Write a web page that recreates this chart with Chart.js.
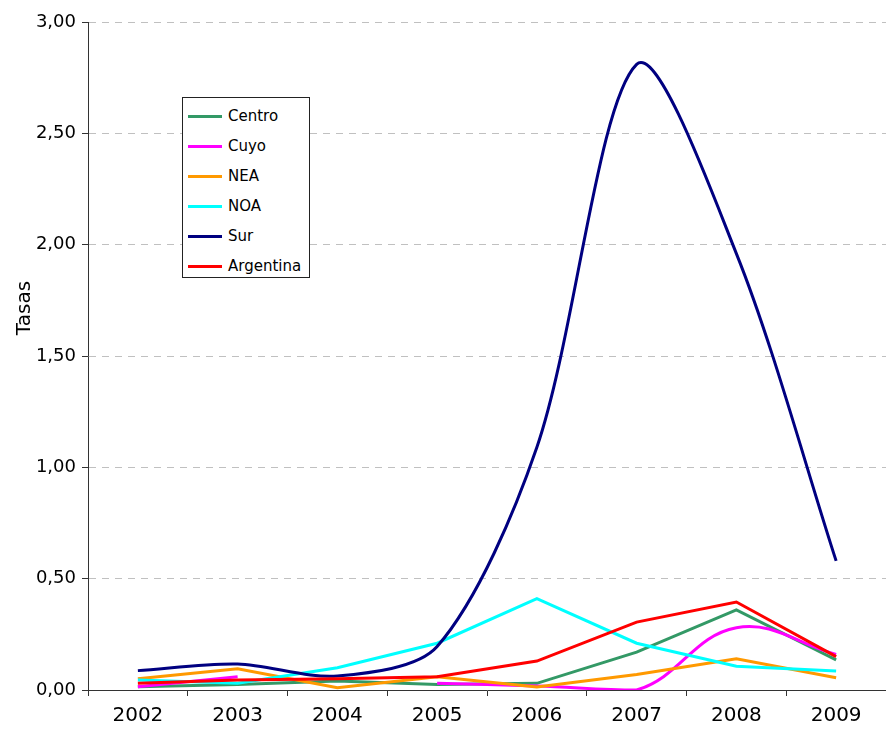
<!DOCTYPE html>
<html>
<head>
<meta charset="utf-8">
<script src="https://cdn.jsdelivr.net/npm/chart.js@4.4.1/dist/chart.umd.min.js"></script>
<style>
    html, body { margin: 0; padding: 0; background: #fff; }
    #wrap { position: relative; width: 886px; height: 735px; overflow: hidden; }
    #leyenda {
        position: absolute; left: 182px; top: 97px; width: 128px; height: 181px;
        border: 1px solid #222; background: #fff; box-sizing: border-box;
        padding-top: 3px;
        font-family: "DejaVu Sans", Tahoma, sans-serif; font-size: 15px; color: #000;
    }
    #leyenda .item { height: 30px; display: flex; align-items: center; }
    #leyenda .linea { width: 34px; height: 3px; margin-left: 5px; margin-right: 6px; }
</style>
</head>
<body>
<div id="wrap">
    <canvas id="grafico" width="886" height="735"></canvas>
    <div id="leyenda"></div>
</div>
<script>
/* ==================
    DATOS
================== */

const anios = ['2002', '2003', '2004', '2005', '2006', '2007', '2008', '2009'];

const centro    = [0.015, 0.025, 0.04, 0.025, 0.03, 0.17, 0.36, 0.135];
const cuyo      = [0.015, 0.06, null, 0.03, 0.018, 0.0, 0.28, 0.16];
const nea       = [0.05, 0.095, 0.01, 0.06, 0.013, 0.07, 0.14, 0.055];
const noa       = [0.045, 0.03, 0.10, 0.21, 0.41, 0.21, 0.107, 0.085];
const sur       = [0.087, 0.117, 0.063, 0.195, 1.09, 2.81, 1.96, 0.58];
const argentina = [0.03, 0.045, 0.05, 0.06, 0.13, 0.305, 0.395, 0.15];

const series = [
    { label: 'Centro', data: centro, color: '#339966', tension: 0 },
    { label: 'Cuyo', data: cuyo, color: '#FF00FF', tension: 0.4 },
    { label: 'NEA', data: nea, color: '#FF9900', tension: 0 },
    { label: 'NOA', data: noa, color: '#00FFFF', tension: 0 },
    { label: 'Sur', data: sur, color: '#000080', tension: 0.3 },
    { label: 'Argentina', data: argentina, color: '#FF0000', tension: 0 }
];

const fuente = '"DejaVu Sans", Tahoma, sans-serif';

/* ==================
    TITULO DEL EJE Y
================== */

const tituloY = {
    id: 'tituloY',
    afterDraw(chart) {
        const ctx = chart.ctx;
        ctx.save();
        ctx.translate(25, 308);
        ctx.rotate(-Math.PI / 2);
        ctx.font = '20px ' + fuente;
        ctx.fillStyle = '#000';
        ctx.textAlign = 'center';
        ctx.textBaseline = 'middle';
        ctx.fillText('Tasas', 0, 0);
        ctx.restore();
    }
};

/* ==================
    GRAFICA
================== */

const ctx = document.getElementById('grafico').getContext('2d');
new Chart(ctx, {
    type: 'line',
    data: {
        labels: anios,
        datasets: series.map((s, i) => ({
            label: s.label,
            data: s.data,
            borderColor: s.color,
            backgroundColor: s.color,
            borderWidth: 3,
            pointRadius: 0,
            tension: s.tension,
            spanGaps: false,
            fill: false,
            order: series.length - i
        }))
    },
    options: {
        responsive: false,
        animation: false,
        layout: { padding: { top: 22, right: 0, left: 0, bottom: 0 } },
        plugins: {
            legend: { display: false },
            tooltip: { enabled: false }
        },
        scales: {
            x: {
                offset: true,
                afterFit: (s) => { s.height = 45; },
                grid: {
                    offset: true,
                    drawOnChartArea: false,
                    tickLength: 6,
                    tickColor: '#333'
                },
                border: { color: '#333', width: 1 },
                ticks: {
                    color: '#000',
                    font: { family: fuente, size: 20 },
                    padding: 8,
                    maxRotation: 0
                }
            },
            y: {
                min: 0,
                max: 3,
                afterFit: (s) => { s.width = 88; },
                grid: {
                    color: '#c0c0c0',
                    tickColor: '#333',
                    tickLength: 6,
                    drawTicks: true
                },
                border: { color: '#333', width: 1, dash: [7, 6] },
                ticks: {
                    stepSize: 0.5,
                    color: '#000',
                    font: { family: fuente, size: 18 },
                    padding: 6,
                    callback: (v) => Number(v).toFixed(2).replace('.', ',')
                }
            }
        }
    },
    plugins: [tituloY]
});

// Leyenda dentro del area de la grafica
const leyenda = document.getElementById('leyenda');
series.forEach(s => {
    const item = document.createElement('div');
    item.className = 'item';
    item.innerHTML = '<span class="linea" style="background:' + s.color + '"></span>' + s.label;
    leyenda.appendChild(item);
});
</script>
</body>
</html>
